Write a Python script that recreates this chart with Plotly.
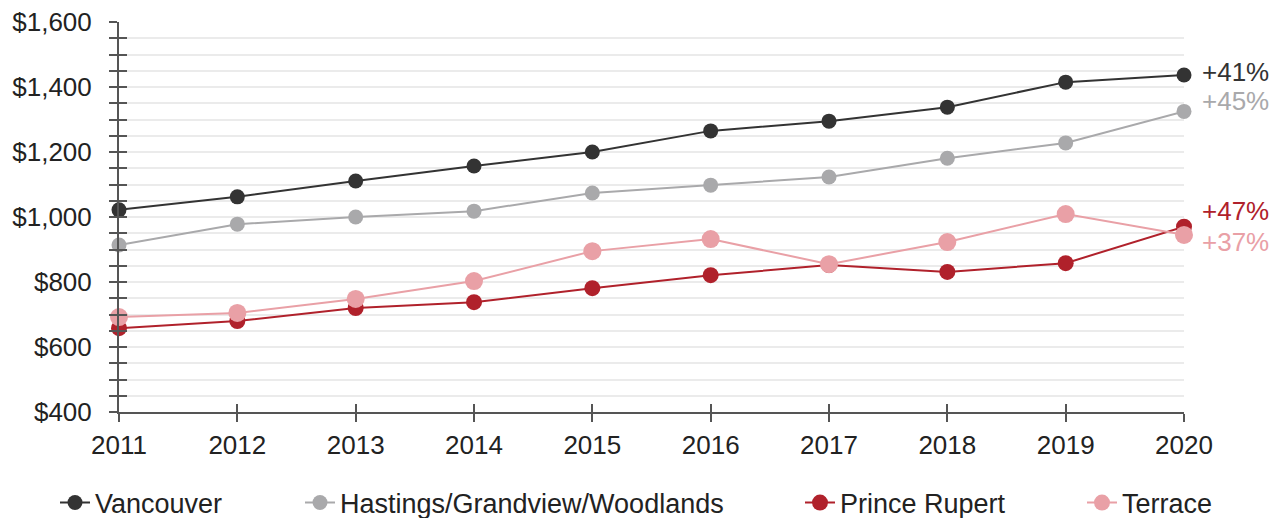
import plotly.graph_objects as go

years = [2011, 2012, 2013, 2014, 2015, 2016, 2017, 2018, 2019, 2020]

vancouver = [1022, 1062, 1111, 1157, 1200, 1265, 1295, 1338, 1415, 1437]
hastings = [914, 978, 1000, 1018, 1074, 1098, 1123, 1181, 1228, 1325]
prince_rupert = [658, 680, 720, 738, 781, 821, 852, 831, 858, 970]
terrace = [692, 705, 748, 803, 895, 932, 855, 923, 1009, 945]

series_names = ["Vancouver", "Hastings/Grandview/Woodlands", "Prince Rupert", "Terrace"]
series_values = [vancouver, hastings, prince_rupert, terrace]
series_colors = ["#333333", "#a9a9ab", "#b0212b", "#e9a0a6"]
marker_sizes = [15, 15, 16, 18]
change_labels = ["+41%", "+45%", "+47%", "+37%"]
label_shifts = [3, 10, 16, -7]
legend_ids = ["legend", "legend2", "legend3", "legend4"]
legend_x = [55, 300, 800, 1082]

FONT = "Liberation Sans, Arial, sans-serif"
AXIS_COLOR = "#555555"
GRID_COLOR = "#ebebeb"
TEXT_COLOR = "#222222"

fig = go.Figure()
for name, vals, color, msize, lid in zip(series_names, series_values, series_colors,
                                         marker_sizes, legend_ids):
    fig.add_trace(go.Scatter(
        x=years, y=vals, name=name, mode="lines+markers",
        line=dict(color=color, width=2),
        marker=dict(color=color, size=msize),
        cliponaxis=False, legend=lid,
    ))

# percentage change labels to the right of the last point
for vals, color, text, shift in zip(series_values, series_colors, change_labels, label_shifts):
    fig.add_annotation(
        x=years[-1], y=vals[-1], xref="x", yref="y", text=text,
        showarrow=False, xanchor="left", xshift=16, yshift=shift,
        font=dict(family=FONT, size=26, color=color),
    )

legend_style = dict(
    orientation="h", xref="container", xanchor="left",
    y=15 / 518, yref="container", yanchor="middle",
    font=dict(family=FONT, size=27, color=TEXT_COLOR),
    bgcolor="rgba(0,0,0,0)", itemwidth=30,
)
legends = {lid: dict(x=lx / 1285, **legend_style) for lid, lx in zip(legend_ids, legend_x)}

fig.update_layout(
    width=1285, height=518,
    margin=dict(l=119, r=101, t=22, b=106, autoexpand=False),
    paper_bgcolor="white", plot_bgcolor="white",
    font=dict(family=FONT, size=26, color=TEXT_COLOR),
    showlegend=True,
    **legends,
    xaxis=dict(
        range=[2011, 2020], tickmode="array", tickvals=years,
        showgrid=False, zeroline=False, automargin=False,
        showline=True, linecolor=AXIS_COLOR, linewidth=2,
        ticks="outside", ticklen=8, tickwidth=2, tickcolor=AXIS_COLOR,
        ticklabelstandoff=1,
        tickfont=dict(family=FONT, size=26, color=TEXT_COLOR),
    ),
    xaxis2=dict(
        range=[2011, 2020], overlaying="x", side="bottom", anchor="y",
        tickmode="array", tickvals=years, showticklabels=False,
        showgrid=False, zeroline=False, showline=False,
        ticks="inside", ticklen=8, tickwidth=2, tickcolor=AXIS_COLOR,
    ),
    yaxis=dict(
        range=[400, 1600], dtick=200, tick0=400,
        tickprefix="$", tickformat=",d",
        showgrid=True, gridcolor=GRID_COLOR, gridwidth=1.5,
        zeroline=False, automargin=False,
        showline=True, linecolor=AXIS_COLOR, linewidth=2,
        ticks="outside", ticklen=8, tickwidth=2, tickcolor=AXIS_COLOR,
        ticklabelstandoff=12,
        tickfont=dict(family=FONT, size=26, color=TEXT_COLOR),
        minor=dict(dtick=50, tick0=400, showgrid=True, gridcolor=GRID_COLOR, gridwidth=1.5,
                   ticks="outside", ticklen=8, tickwidth=2, tickcolor=AXIS_COLOR),
    ),
    yaxis2=dict(
        range=[400, 1600], dtick=200, tick0=400, overlaying="y", side="left", anchor="x",
        showticklabels=False, showgrid=False, zeroline=False, showline=False,
        ticks="inside", ticklen=8, tickwidth=2, tickcolor=AXIS_COLOR,
        minor=dict(dtick=50, tick0=400, ticks="inside", ticklen=8, tickwidth=2, tickcolor=AXIS_COLOR),
    ),
)

# invisible trace so the overlay axes carrying the inner tick halves are drawn
fig.add_trace(go.Scatter(x=[years[0]], y=[400], xaxis="x2", yaxis="y2",
                         mode="markers", marker=dict(opacity=0), showlegend=False,
                         hoverinfo="skip"))

fig.write_html("out.html")
